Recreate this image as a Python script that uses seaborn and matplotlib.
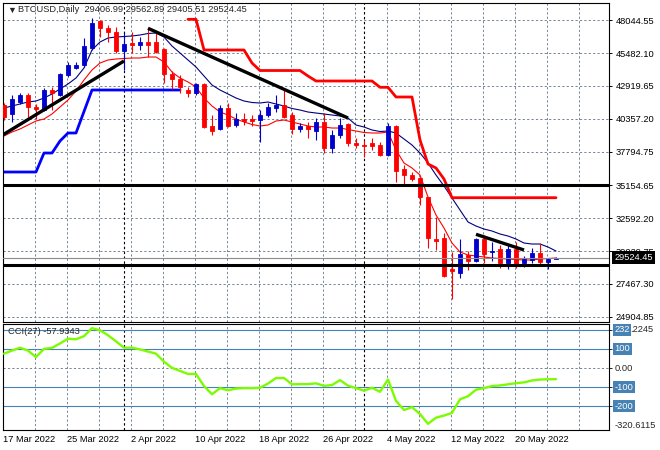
import numpy as np
import pandas as pd
import matplotlib
matplotlib.use("Agg")
import matplotlib.pyplot as plt
import matplotlib.transforms as mtransforms
import seaborn as sns

# ---------------- data ----------------
dates = pd.date_range("2022-03-17", "2022-05-25", freq="D")

opens = [41432, 40729, 41689, 42212, 41299, 41041, 42603, 42212, 43774, 44352,
         44555, 45858, 48013, 47420, 47154, 45671, 46249, 46116, 46374, 46374,
         45780, 43852, 43438, 42603, 42345, 43071, 39792, 39535, 41174, 39870,
         40315, 40315, 40261, 40651, 41221, 41432, 40651, 39520, 39792, 39425,
         40104, 38050, 39090, 39948, 38464, 38308, 38464, 38338, 37558, 39792,
         36412, 35967, 35710, 34227, 30971, 31026, 28652, 28340, 29722, 29277,
         30940, 29980, 30159, 29121, 30159, 29121, 29332, 29855, 29199, 29406.99]
highs = [41588, 42212, 42345, 42345, 41510, 42759, 42814, 43954, 44812, 44812,
         46640, 48200, 48068, 47677, 47545, 47053, 47154, 46764, 47420, 47154,
         45858, 44110, 43774, 42814, 43126, 43126, 40651, 41432, 41564, 40784,
         40784, 40651, 41041, 41564, 42212, 42665, 40909, 40003, 40128, 40393,
         40784, 39480, 40393, 40050, 38831, 38699, 38831, 38566, 40050, 39870,
         36748, 36201, 35835, 34274, 32696, 31416, 29956, 30940, 30034, 31065,
         31276, 30753, 30495, 30495, 30753, 29644, 30245, 30635, 29464, 29562.89]
lows = [40261, 40128, 41510, 40518, 40315, 40963, 41041, 42134, 43641, 44217,
        44423, 45726, 46764, 46374, 45468, 44163, 45468, 45726, 45203, 45468,
        43126, 42658, 42345, 42033, 42212, 39613, 39090, 39480, 39738, 39738,
        39870, 39792, 38566, 40518, 40909, 40393, 39168, 39347, 38831, 38699,
        37683, 37660, 38831, 38198, 38074, 37371, 37918, 37480, 37480, 35429,
        35108, 35499, 33626, 30245, 30112, 28027, 26286, 27905, 28551, 29199,
        29121, 29277, 28684, 28605, 28684, 28808, 29074, 29020, 28605, 29405.51]
closes = [40495, 41877, 42212, 41252, 41143, 42603, 42345, 43852, 44555, 44555,
          46038, 47857, 47420, 47154, 45671, 46194, 46140, 46374, 46116, 45593,
          43852, 43438, 42814, 42392, 43071, 39738, 39425, 41174, 39792, 40315,
          40214, 40214, 40651, 41252, 41432, 40518, 39535, 39792, 39558, 40104,
          38050, 39090, 39870, 38464, 38308, 38198, 38253, 37558, 39792, 36287,
          35967, 35632, 34274, 31026, 30815, 28083, 28496, 29800, 29277, 30971,
          29800, 30034, 29121, 30159, 29020, 29387, 29855, 29199, 29387, 29524.45]

ma_navy = [41198, 41354, 41510, 41666, 41744, 41978, 42291, 42681, 43072, 43540,
           44321, 45726, 46351, 46663, 46741, 46780, 46819, 46897, 47014, 47053,
           46741, 46038, 45492, 44945, 44399, 43696, 42994, 42603, 42291, 41978,
           41744, 41627, 41588, 41666, 41510, 41354, 41159, 41041, 40885, 40807,
           40729, 40651, 40573, 40417, 39871, 39714, 39480, 39363, 39402, 39246,
           38777, 38309, 37685, 36904, 35967, 35108, 34171, 33234, 32298, 31985,
           31751, 31595, 31361, 31205, 30970, 30658, 30580, 30580, 30346, 30034]
ma_red = [39012, 39324, 39558, 39871, 40183, 40339, 40729, 41276, 41822, 42525,
          43384, 44164, 44711, 44945, 45023, 45062, 45101, 45101, 45179, 45179,
          44789, 44008, 43540, 43228, 42837, 41978, 41354, 40885, 40651, 40339,
          40105, 39910, 39792, 39871, 40183, 40261, 40105, 39949, 39792, 39714,
          39714, 39636, 39636, 39519, 39402, 39285, 39246, 39246, 39324, 37919,
          36904, 36514, 35967, 34250, 32844, 31829, 30658, 29956, 29722, 29644,
          29566, 29488, 29449, 29410, 29371, 29332, 29332, 29410, 29449, 29488]

nan = np.nan
stop_support = [36201, 36201, 36201, 36201, 36201, 37684, 37684, 38621, 39246, 39246,
                40925, 42603, 42603, 42603, 42603, 42603, 42603, 42603, 42603, 42603,
                42603, 42603, 42603, nan, nan, nan, nan, nan, nan, nan,
                nan, nan, nan, nan, nan, nan, nan, nan, nan, nan,
                nan, nan, nan, nan, nan, nan, nan, nan, nan, nan,
                nan, nan, nan, nan, nan, nan, nan, nan, nan, nan,
                nan, nan, nan, nan, nan, nan, nan, nan, nan, nan]
stop_resist = [nan, nan, nan, nan, nan, nan, nan, nan, nan, nan,
               nan, nan, nan, nan, nan, nan, nan, nan, nan, nan,
               nan, nan, nan, 48122, 48122, 45726, 45726, 45726, 45726, 45726,
               45726, 44711, 44125, 44125, 44125, 44125, 44125, 44125, 43696, 43306,
               43306, 43306, 43306, 43306, 43306, 43306, 43306, 42814, 42814, 42057,
               42057, 42057, 38700, 36826, 36514, 35655, 34195, 34195, 34195, 34195,
               34195, 34195, 34195, 34195, 34195, 34195, 34195, 34195, 34195, 34195]

cci = [75, 91, 106, 91, 57, 100, 105, 128, 153, 150,
       166, 208, 197, 171, 139, 106, 106, 97, 86, 75,
       33, 1, -15, -31, -31, -94, -137, -105, -116, -107,
       -105, -105, -103, -81, -52, -52, -85, -84, -84, -80,
       -93, -89, -63, -92, -105, -118, -103, -124, -60, -171,
       -219, -204, -240, -291, -259, -248, -234, -163, -147, -113,
       -105, -94, -91, -85, -79, -75, -65, -60, -59, -57.9343]

# trend lines: (bar index, price) endpoints
trend_up_x, trend_up_y = [-0.2, 15], [39080, 44867]
trend_dn_x, trend_dn_y = [18, 43], [47420, 40417]
trend_small_x, trend_small_y = [59, 65], [31337, 30112]
resistance_level = 35154.65
support_level = 28941
last_price = 29524.45

price_ticks = [48044.55, 45482.10, 42919.65, 40357.20, 37794.75, 35154.65,
               32592.20, 30029.75, 27467.30, 24904.85]
cci_levels = [100, -100, -200]
cci_top_level = 200
cci_min, cci_max = -320.6115, 232.2245

title = "BTCUSD,Daily  29406.99 29562.89 29405.51 29524.45"
cci_title = "CCI(27) -57.9343"

# ---------------- style ----------------
sns.set_style("white")
FONT = ["Liberation Sans", "DejaVu Sans"]
plt.rcParams["font.family"] = FONT
FS = 6.7

W, H = 660, 450
fig = plt.figure(figsize=(W / 100, H / 100), dpi=100)
fig.patch.set_facecolor("white")


def rect(x0, y0, x1, y1):
    return [x0 / W, 1 - y1 / H, (x1 - x0) / W, (y1 - y0) / H]


ax = fig.add_axes(rect(2.5, 2.5, 609, 321.5))
axc = fig.add_axes(rect(2.5, 323.5, 609, 429.5))

df = pd.DataFrame({"idx": np.arange(len(dates)), "open": opens, "high": highs,
                   "low": lows, "close": closes, "ma_navy": ma_navy, "ma_red": ma_red,
                   "sup": stop_support, "res": stop_resist, "cci": cci})
x = df["idx"].to_numpy()

XMIN, XMAX = -0.1875, 75.625
GRID = dict(color="#778899", lw=0.72, ls=(0, (2.2, 2.2)), zorder=0.5)
vgrid = np.arange(3.875, XMAX, 4)
month_starts = [i for i, d in enumerate(dates) if d.day == 1]

for a in (ax, axc):
    a.set_xlim(XMIN, XMAX)
    a.set_facecolor("white")
    for s in a.spines.values():
        s.set_color("black")
        s.set_linewidth(0.8)
    for v in vgrid:
        a.axvline(v, **GRID)
    for m in month_starts:
        a.axvline(m, color="black", lw=0.8, ls=(0, (2.2, 2.2)), zorder=0.7)

# ---------------- main panel ----------------
ax.set_ylim(24531, 49434)
for p in price_ticks:
    if p != resistance_level:
        ax.axhline(p, **GRID)

bull, bear = "#0000CD", "#FF0000"
o = df["open"].to_numpy(); c = df["close"].to_numpy()
cols = np.where(c >= o, bull, bear)

sns.lineplot(data=df, x="idx", y="ma_navy", ax=ax, color="#000080", lw=0.8,
             estimator=None, legend=False, zorder=2)
sns.lineplot(data=df, x="idx", y="ma_red", ax=ax, color="#FF0000", lw=0.8,
             estimator=None, legend=False, zorder=2)
sns.lineplot(data=df.dropna(subset=["sup"]), x="idx", y="sup", ax=ax, color="#0000FF",
             lw=2.0, estimator=None, legend=False, zorder=2)
sns.lineplot(data=df.dropna(subset=["res"]), x="idx", y="res", ax=ax, color="#FF0000",
             lw=2.0, estimator=None, legend=False, zorder=2)

ax.vlines(x, df["low"], df["high"], colors=cols, lw=0.8, zorder=3)
ax.bar(x, np.abs(c - o), bottom=np.minimum(o, c), width=0.62, color=cols,
       edgecolor=cols, linewidth=0.6, zorder=4)

ax.axhline(last_price, color="#8C8C8C", lw=0.8, zorder=4.5)
ax.axhline(resistance_level, color="black", lw=2.2, zorder=5)
ax.axhline(support_level, color="black", lw=2.2, zorder=5)
for tx, ty in ((trend_up_x, trend_up_y), (trend_dn_x, trend_dn_y),
               (trend_small_x, trend_small_y)):
    ax.plot(tx, ty, color="black", lw=2.4, zorder=5, solid_capstyle="butt")

ax.set_xticks([])
ax.set_xlabel(""); ax.set_ylabel("")
ax.yaxis.set_ticks_position("right")
ax.set_yticks(price_ticks)
ax.set_yticklabels([f"{p:.2f}" for p in price_ticks])
ax.tick_params(axis="y", direction="out", length=2.5, width=0.7, pad=2,
               labelsize=FS, colors="black")

trans_main = mtransforms.blended_transform_factory(ax.transAxes, ax.transData)
ax.text(1.0 + 5.5 / 606.5, last_price, f"{last_price:.2f}", transform=trans_main,
        color="white", fontsize=FS, va="center", ha="left", zorder=10, clip_on=False,
        bbox=dict(boxstyle="square,pad=0.25", fc="black", ec="none"))

fig.text(7 / W, 1 - 10 / H, "▼", fontsize=6.5, va="center", ha="left", family=FONT)
fig.text(18 / W, 1 - 10 / H, title, fontsize=FS, va="center", ha="left", family=FONT)

# ---------------- CCI panel ----------------
axc.set_ylim(cci_min, cci_max)
axc.axhline(0, **GRID)
for lv in [cci_top_level] + cci_levels:
    axc.axhline(lv, color="#4682B4", lw=0.8, zorder=1)
sns.lineplot(data=df, x="idx", y="cci", ax=axc, color="#7CFC00", lw=1.7,
             estimator=None, legend=False, zorder=3)
axc.set_xlabel(""); axc.set_ylabel("")
axc.yaxis.set_ticks_position("right")
axc.set_yticks([cci_top_level, 100, 0, -100, -200])
axc.set_yticklabels([])
axc.tick_params(axis="y", direction="out", length=2.5, width=0.7)

trans_cci = mtransforms.blended_transform_factory(axc.transAxes, axc.transData)
lx = 1.0 + 5.5 / 606.5
BOX = dict(boxstyle="square,pad=0.15", fc="#4682B4", ec="none")
# top label: the "200" level box sits under the first digits of the maximum
top_txt = f"{cci_max:.4f}"
t_head = axc.text(lx, cci_top_level, top_txt[:3], transform=trans_cci, fontsize=FS,
                  va="center", ha="left", color="white", clip_on=False, zorder=10,
                  bbox=BOX)
fig.canvas.draw()
bb = t_head.get_window_extent()
x_tail = axc.transAxes.inverted().transform((bb.x1, bb.y0))[0]
axc.text(x_tail, cci_top_level, top_txt[3:], transform=trans_cci, fontsize=FS,
         va="center", ha="left", clip_on=False)
axc.text(lx, cci_min, f"{cci_min:.4f}", transform=trans_cci, fontsize=FS, va="bottom",
         ha="left", clip_on=False)
axc.text(lx, 0, "0.00", transform=trans_cci, fontsize=FS, va="center", ha="left",
         clip_on=False)
for lv in cci_levels:
    axc.text(lx, lv, f"{lv}", transform=trans_cci, fontsize=FS, va="center", ha="left",
             color="white", clip_on=False, zorder=10, bbox=BOX)

label_pos = np.arange(0, len(dates), 8)
axc.set_xticks(label_pos - 0.125)
axc.set_xticklabels([f"{dates[i].day} {dates[i].strftime('%b %Y')}" for i in label_pos],
                    ha="left")
axc.tick_params(axis="x", direction="out", length=3, width=0.7, pad=1,
                labelsize=FS, colors="black")

fig.text(8 / W, 1 - 331 / H, cci_title, fontsize=FS, va="center", ha="left",
         family=FONT)

fig.savefig("out.png", dpi=100, facecolor="white")
